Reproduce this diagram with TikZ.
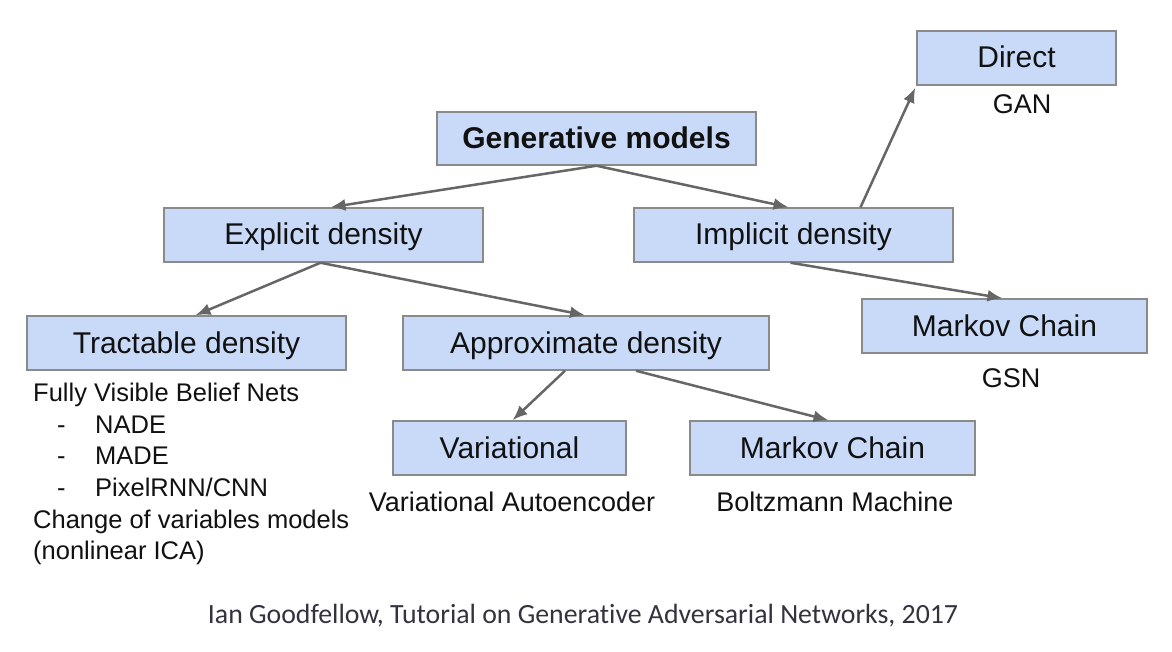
\documentclass[tikz,border=0pt]{standalone}
\usepackage{fontspec}
\setmainfont{Liberation Sans}
\newfontfamily\capfont[Ligatures=NoCommon]{Carlito}
\usetikzlibrary{arrows.meta}
\definecolor{boxfill}{HTML}{C9DAF8}
\definecolor{boxline}{HTML}{8A8A8A}
\definecolor{arrowcol}{HTML}{666666}
\definecolor{txt}{HTML}{111111}
\definecolor{captxt}{HTML}{33333F}
\tikzset{
  catbox/.style={draw=boxline, line width=1.5pt, fill=boxfill, inner sep=0pt,
    text=txt, text height=20pt, text depth=0pt, font=\fontsize{30}{36}\selectfont},
  sublabel/.style={text=txt, font=\fontsize{27}{32}\selectfont, inner sep=0pt},
  conn/.style={draw=arrowcol, line width=2.5pt, -{Latex[length=15pt,width=12pt]}}
}
\begin{document}
\begin{tikzpicture}[x=1pt,y=-1pt]
\useasboundingbox (0,0) rectangle (1172,652);
\fill[white] (0,0) rectangle (1172,652);
% boxes
\node[catbox, minimum width=319pt, minimum height=53pt, font=\bfseries\fontsize{30}{36}\selectfont] (gen) at (596.5,138.5) {Generative models};
\node[catbox, minimum width=319pt, minimum height=54pt] (expl) at (323.5,235) {Explicit density};
\node[catbox, minimum width=319pt, minimum height=54pt] (impl) at (793.5,235) {Implicit density};
\node[catbox, minimum width=199pt, minimum height=54pt] (direct) at (1016.5,58) {Direct};
\node[catbox, minimum width=319pt, minimum height=54pt] (tract) at (186.5,343) {Tractable density};
\node[catbox, minimum width=366pt, minimum height=54pt] (approx) at (586,343) {Approximate density};
\node[catbox, minimum width=285pt, minimum height=54pt] (mcr) at (1004.5,326) {Markov Chain};
\node[catbox, minimum width=233pt, minimum height=54pt] (var) at (509.5,448) {Variational};
\node[catbox, minimum width=285pt, minimum height=54pt] (mcb) at (832.5,448) {Markov Chain};
% sublabels
\node[sublabel] (gan) at (1022,104) {GAN};
\node[sublabel] (gsn) at (1011,378) {GSN};
\node[sublabel] (vae) at (512,502) {Variational Autoencoder};
\node[sublabel] (boltz) at (835,502) {Boltzmann Machine};
\node[text=txt, inner sep=0pt, anchor=north west, align=left,
  font=\fontsize{25.5}{31.6}\selectfont] (tractlist) at (33,383) {%
Fully Visible Belief Nets\\
\makebox[62pt][l]{\hspace{24pt}-}NADE\\
\makebox[62pt][l]{\hspace{24pt}-}MADE\\
\makebox[62pt][l]{\hspace{24pt}-}PixelRNN/CNN\\
Change of variables models\\
(nonlinear ICA)};
% caption
\node[text=captxt, inner sep=0pt, font=\capfont\fontsize{27.8}{33}\selectfont] (caption) at (583,616) {Ian Goodfellow, Tutorial on Generative Adversarial Networks, 2017};
% connectors
\draw[conn] (gen.south) -- ([xshift=7pt]expl.north);
\draw[conn] (gen.south) -- ([xshift=-5pt]impl.north);
\draw[conn] ([xshift=-3pt]expl.south) -- ([xshift=9pt]tract.north);
\draw[conn] ([xshift=-3pt]expl.south) -- ([xshift=-1pt]approx.north);
\draw[conn] ([xshift=67pt]impl.north) -- ([xshift=-1pt,yshift=-2pt]direct.south west);
\draw[conn] ([xshift=-3pt]impl.south) -- ([xshift=-2pt]mcr.north);
\draw[conn] ([xshift=-21pt]approx.south) -- ([xshift=3pt]var.north);
\draw[conn] ([xshift=50pt]approx.south) -- ([xshift=-4pt]mcb.north);
\end{tikzpicture}
\end{document}
